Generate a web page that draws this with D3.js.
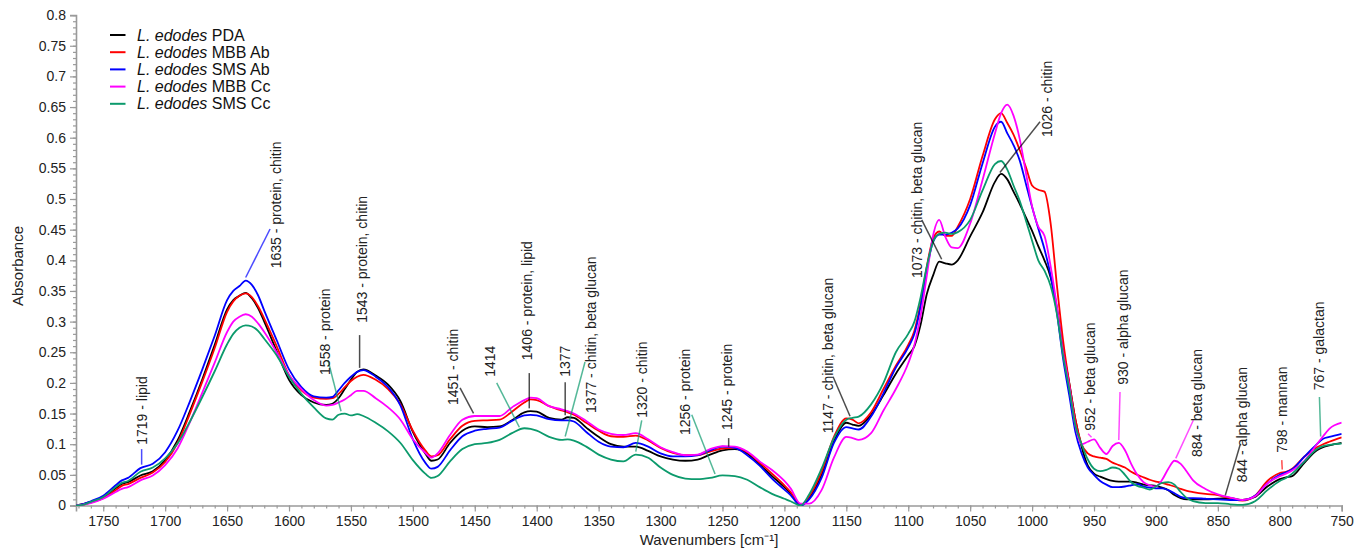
<!DOCTYPE html>
<html>
<head>
<meta charset="utf-8">
<script src="https://cdn.jsdelivr.net/npm/d3@7"></script>
<style>
  html, body { margin: 0; padding: 0; background: #fff; }
  svg { display: block; font-family: "Liberation Sans", Arial, sans-serif; }
</style>
</head>
<body>
<svg id="chart" width="1370" height="550"></svg>
<script>
// FTIR absorbance spectra of L. edodes mycelium grown on different substrates
const wavenumbers = [
  1772,1765,1760,1750,1740,1735,1730,1720,1710,1700,
  1690,1680,1670,1660,1650,1645,1640,1635,1630,1625,
  1620,1610,1600,1590,1580,1570,1565,1560,1555,1550,
  1545,1540,1530,1520,1510,1500,1490,1485,1480,1470,
  1460,1450,1440,1430,1420,1410,1405,1400,1390,1380,
  1375,1370,1360,1350,1340,1330,1320,1310,1300,1290,
  1280,1270,1260,1250,1240,1230,1220,1210,1200,1195,
  1187,1180,1170,1160,1150,1145,1140,1130,1120,1110,
  1100,1095,1090,1085,1080,1075,1070,1065,1060,1050,
  1040,1030,1025,1020,1015,1010,1005,1000,995,990,
  985,980,975,970,965,960,955,950,945,940,
  935,930,925,920,915,910,905,900,895,890,
  885,880,875,870,860,850,840,830,820,810,
  800,795,790,780,770,765,760,750
];

const pdaValues = [
  0,0.003,0.006,0.013,0.028,0.035,0.038,0.049,0.056,0.074,
  0.106,0.154,0.206,0.262,0.320,0.335,0.342,0.347,0.338,0.322,
  0.300,0.252,0.205,0.180,0.168,0.164,0.166,0.175,0.190,0.205,
  0.218,0.222,0.212,0.197,0.170,0.120,0.085,0.073,0.075,0.102,
  0.122,0.129,0.128,0.129,0.139,0.152,0.154,0.153,0.143,0.140,
  0.144,0.143,0.127,0.112,0.100,0.096,0.096,0.089,0.080,0.075,
  0.073,0.075,0.083,0.090,0.092,0.085,0.067,0.048,0.030,0.020,
  0,0.012,0.050,0.105,0.135,0.132,0.130,0.148,0.180,0.215,
  0.245,0.260,0.295,0.345,0.375,0.398,0.395,0.393,0.400,0.439,
  0.478,0.528,0.541,0.532,0.512,0.492,0.470,0.448,0.423,0.400,
  0.372,0.323,0.255,0.200,0.140,0.096,0.065,0.052,0.047,0.043,
  0.040,0.039,0.039,0.039,0.037,0.034,0.033,0.032,0.029,0.025,
  0.017,0.012,0.010,0.010,0.010,0.011,0.012,0.009,0.014,0.031,
  0.043,0.046,0.048,0.070,0.090,0.095,0.098,0.102
];

const mbbAbValues = [
  0,0.002,0.005,0.012,0.025,0.032,0.035,0.045,0.054,0.071,
  0.102,0.150,0.202,0.257,0.316,0.333,0.342,0.346,0.340,0.325,
  0.305,0.260,0.213,0.188,0.176,0.174,0.175,0.182,0.193,0.203,
  0.210,0.213,0.205,0.190,0.165,0.122,0.090,0.080,0.082,0.108,
  0.130,0.138,0.139,0.140,0.153,0.168,0.173,0.172,0.162,0.155,
  0.152,0.148,0.135,0.122,0.113,0.112,0.114,0.106,0.094,0.086,
  0.082,0.082,0.088,0.093,0.094,0.087,0.070,0.052,0.033,0.022,
  0,0.015,0.055,0.112,0.142,0.140,0.134,0.152,0.190,0.228,
  0.262,0.285,0.330,0.390,0.435,0.447,0.440,0.440,0.455,0.500,
  0.570,0.630,0.640,0.624,0.605,0.580,0.552,0.522,0.515,0.512,
  0.460,0.360,0.270,0.200,0.140,0.100,0.085,0.080,0.078,0.076,
  0.070,0.066,0.062,0.055,0.050,0.046,0.042,0.039,0.037,0.034,
  0.031,0.027,0.024,0.022,0.019,0.017,0.012,0.008,0.016,0.040,
  0.053,0.055,0.060,0.080,0.095,0.100,0.104,0.111
];

const smsAbValues = [
  0,0.003,0.007,0.016,0.033,0.041,0.045,0.061,0.068,0.087,
  0.122,0.170,0.222,0.277,0.335,0.350,0.358,0.367,0.360,0.343,
  0.318,0.270,0.222,0.193,0.178,0.176,0.177,0.188,0.200,0.210,
  0.218,0.221,0.210,0.193,0.163,0.108,0.070,0.060,0.063,0.090,
  0.113,0.122,0.125,0.127,0.138,0.147,0.148,0.147,0.141,0.139,
  0.139,0.137,0.120,0.104,0.096,0.095,0.102,0.096,0.085,0.080,
  0.080,0.082,0.090,0.096,0.094,0.082,0.065,0.044,0.026,0.017,
  0,0.010,0.045,0.102,0.128,0.126,0.124,0.145,0.183,0.225,
  0.258,0.280,0.325,0.385,0.430,0.442,0.442,0.445,0.452,0.490,
  0.558,0.618,0.626,0.607,0.588,0.563,0.525,0.487,0.452,0.418,
  0.375,0.315,0.240,0.180,0.120,0.085,0.062,0.050,0.040,0.034,
  0.030,0.030,0.031,0.033,0.035,0.031,0.029,0.028,0.028,0.025,
  0.020,0.014,0.012,0.012,0.011,0.010,0.009,0.009,0.016,0.036,
  0.050,0.054,0.059,0.080,0.100,0.109,0.112,0.117
];

const mbbCcValues = [
  0,0.002,0.004,0.011,0.022,0.027,0.030,0.041,0.049,0.066,
  0.093,0.136,0.184,0.233,0.283,0.300,0.308,0.312,0.308,0.297,
  0.283,0.250,0.213,0.190,0.172,0.163,0.164,0.168,0.173,0.180,
  0.187,0.187,0.175,0.160,0.140,0.108,0.086,0.078,0.085,0.115,
  0.140,0.146,0.146,0.146,0.160,0.172,0.176,0.175,0.162,0.157,
  0.154,0.150,0.138,0.124,0.117,0.115,0.118,0.108,0.095,0.087,
  0.082,0.083,0.092,0.097,0.096,0.088,0.072,0.058,0.040,0.028,
  0.003,0.003,0.025,0.078,0.112,0.110,0.107,0.118,0.155,0.190,
  0.232,0.262,0.310,0.375,0.440,0.466,0.438,0.421,0.420,0.460,
  0.531,0.607,0.640,0.654,0.636,0.598,0.543,0.488,0.455,0.440,
  0.390,0.325,0.250,0.195,0.130,0.100,0.104,0.108,0.094,0.084,
  0.097,0.102,0.090,0.068,0.050,0.038,0.033,0.031,0.042,0.060,
  0.073,0.068,0.055,0.041,0.027,0.018,0.013,0.009,0.015,0.036,
  0.048,0.052,0.057,0.073,0.100,0.113,0.125,0.135
];

const smsCcValues = [
  0,0.002,0.006,0.014,0.030,0.037,0.040,0.055,0.062,0.077,
  0.101,0.137,0.177,0.219,0.263,0.280,0.290,0.294,0.292,0.285,
  0.272,0.245,0.210,0.182,0.160,0.142,0.140,0.148,0.150,0.147,
  0.149,0.146,0.135,0.121,0.102,0.074,0.052,0.045,0.048,0.072,
  0.092,0.100,0.102,0.107,0.118,0.126,0.125,0.122,0.112,0.107,
  0.108,0.106,0.096,0.083,0.075,0.072,0.083,0.078,0.062,0.050,
  0.044,0.043,0.045,0.049,0.048,0.042,0.030,0.019,0.011,0.007,
  0,0.018,0.060,0.110,0.140,0.143,0.145,0.165,0.200,0.250,
  0.280,0.300,0.340,0.390,0.430,0.443,0.445,0.443,0.446,0.466,
  0.514,0.557,0.562,0.548,0.522,0.497,0.465,0.432,0.400,0.383,
  0.358,0.313,0.245,0.190,0.130,0.100,0.075,0.060,0.056,0.058,
  0.062,0.060,0.050,0.038,0.032,0.029,0.026,0.031,0.037,0.038,
  0.034,0.022,0.012,0.007,0.004,0.004,0.002,0.001,0.007,0.025,
  0.040,0.045,0.052,0.072,0.092,0.097,0.099,0.101
];

const seriesNames = ["PDA", "MBB Ab", "SMS Ab", "MBB Cc", "SMS Cc"];
const seriesValues = [pdaValues, mbbAbValues, smsAbValues, mbbCcValues, smsCcValues];
const seriesColors = ["#000000", "#ff0000", "#0000ff", "#ff00ff", "#0c9a6c"];

const xTickValues = [1750,1700,1650,1600,1550,1500,1450,1400,1350,1300,1250,1200,1150,1100,1050,1000,950,900,850,800,750];
const yTickValues = [0,0.05,0.1,0.15,0.2,0.25,0.3,0.35,0.4,0.45,0.5,0.55,0.6,0.65,0.7,0.75,0.8];

// Band assignments: wn = band position, on = series the pointer touches,
// label = [wavenumber, absorbance] where the rotated text starts,
// from = [wavenumber, absorbance] where the pointer starts.
const bandNotes = [
  { wn: 1719, text: "1719 - lipid", color: 2, on: 2, label: [1719, 0.099], from: [1719, 0.092] },
  { wn: 1635, text: "1635 - protein, chitin", color: 2, on: 2, label: [1610.5, 0.387], from: [1615.3, 0.451] },
  { wn: 1558, text: "1558 - protein", color: 4, on: 4, label: [1570.9, 0.213], from: [1568.5, 0.237] },
  { wn: 1543, text: "1543 - protein, chitin", color: 0, on: 0, label: [1541.1, 0.298], from: [1543, 0.278] },
  { wn: 1451, text: "1451 - chitin", color: 0, on: 3, label: [1467.6, 0.164], from: [1461.9, 0.192] },
  { wn: 1414, text: "1414", color: 4, on: 4, label: [1437.7, 0.210], from: [1432.3, 0.200] },
  { wn: 1406, text: "1406 - protein, lipid", color: 0, on: 0, label: [1407.8, 0.237], from: [1406, 0.216] },
  { wn: 1377, text: "1377", color: 0, on: 0, label: [1377.1, 0.210], from: [1377, 0.201] },
  { wn: 1377, text: "1377 - chitin, beta glucan", color: 4, on: 4, label: [1356.1, 0.151], from: [1361, 0.234] },
  { wn: 1320, text: "1320 - chitin", color: 4, on: 4, label: [1315, 0.143], from: [1315.2, 0.139] },
  { wn: 1256, text: "1256 - protein", color: 4, on: 4, label: [1280.2, 0.115], from: [1274.8, 0.148] },
  { wn: 1245, text: "1245 - protein", color: 0, on: 0, label: [1246.3, 0.123], from: [1245, 0.110] },
  { wn: 1147, text: "1147 - chitin, beta glucan", color: 0, on: 1, label: [1164.8, 0.118], from: [1160.7, 0.210] },
  { wn: 1073, text: "1073 - chitin, beta glucan", color: 0, on: 0, label: [1092.9, 0.371], from: [1089.1, 0.466] },
  { wn: 1026, text: "1026 - chitin", color: 0, on: 0, label: [987.5, 0.601], from: [993.6, 0.626] },
  { wn: 952, text: "952 - beta glucan", color: 3, on: 3, label: [953.2, 0.122], from: [954.8, 0.117] },
  { wn: 930, text: "930 - alpha glucan", color: 3, on: 3, label: [926.8, 0.197], from: [929, 0.185] },
  { wn: 884, text: "884 - beta glucan", color: 3, on: 3, label: [867, 0.079], from: [869.8, 0.139] },
  { wn: 844, text: "844 - alpha glucan", color: 0, on: 0, label: [830.7, 0.038], from: [832, 0.099] },
  { wn: 798, text: "798 - mannan", color: 1, on: 1, label: [798.4, 0.086], from: [798.4, 0.074] },
  { wn: 767, text: "767 - galactan", color: 4, on: 3, label: [768, 0.188], from: [768, 0.177] }
];

const svg = d3.select("#chart");
const x = d3.scaleLinear().domain([1772, 750]).range([76, 1341.7]);
const y = d3.scaleLinear().domain([0, 0.8]).range([505.5, 15.1]);

// clip for spectra
svg.append("defs").append("clipPath").attr("id", "plot-clip")
  .append("rect").attr("x", 76).attr("y", 0).attr("width", 1341.7 - 76).attr("height", 506);

// Axes
const axisColor = "#9a9a9a";
const textColor = "#222";

const xMinor = d3.range(1770, 749, -10);
const yMinor = d3.range(0, 0.8001, 0.01);

const gxMinor = svg.append("g").attr("transform", "translate(0,505.5)")
  .call(d3.axisBottom(x).tickValues(xMinor).tickSize(3).tickFormat(""));
const gx = svg.append("g").attr("transform", "translate(0,505.5)")
  .call(d3.axisBottom(x).tickValues(xTickValues).tickSize(6).tickPadding(5)
    .tickFormat(d3.format("d")));
const gyMinor = svg.append("g").attr("transform", "translate(76,0)")
  .call(d3.axisLeft(y).tickValues(yMinor).tickSize(3).tickFormat(""));
const gy = svg.append("g").attr("transform", "translate(76,0)")
  .call(d3.axisLeft(y).tickValues(yTickValues).tickSize(6).tickPadding(4)
    .tickFormat(d => String(+d.toFixed(2))));

[gxMinor, gx, gyMinor, gy].forEach(g => {
  g.select(".domain").attr("stroke", axisColor).attr("stroke-width", 1.6);
  g.selectAll(".tick line").attr("stroke", axisColor).attr("stroke-width", 1.2);
  g.selectAll(".tick text").attr("fill", textColor)
    .style("font-size", "14px").style("font-family", "'Liberation Sans', Arial, sans-serif");
});
gyMinor.select(".domain").remove();
gxMinor.select(".domain").remove();

// Axis titles
svg.append("text")
  .attr("x", 709).attr("y", 545)
  .attr("text-anchor", "middle")
  .attr("fill", textColor)
  .style("font-size", "15px")
  .text("Wavenumbers [cm\u207B\u00B9]");

svg.append("text")
  .attr("transform", "translate(23,266) rotate(-90)")
  .attr("text-anchor", "middle")
  .attr("fill", textColor)
  .style("font-size", "15px")
  .text("Absorbance");

// Spectra
const line = d3.line()
  .x((d, i) => x(wavenumbers[i]))
  .y(d => y(d))
  .curve(d3.curveMonotoneX);

const spectra = svg.append("g").attr("clip-path", "url(#plot-clip)");
seriesValues.forEach((vals, k) => {
  spectra.append("path")
    .datum(vals)
    .attr("fill", "none")
    .attr("stroke", seriesColors[k])
    .attr("stroke-width", 1.8)
    .attr("stroke-linejoin", "round")
    .attr("d", line);
});

// value of a spectrum at an arbitrary wavenumber (linear between samples)
function valueAt(k, wn) {
  const vals = seriesValues[k];
  for (let i = 0; i < wavenumbers.length - 1; i++) {
    const a = wavenumbers[i], b = wavenumbers[i + 1];
    if (wn <= a && wn >= b) {
      const t = (a - wn) / (a - b);
      return vals[i] + t * (vals[i + 1] - vals[i]);
    }
  }
  return 0;
}

// Band annotations
const notes = svg.append("g");
bandNotes.forEach(n => {
  const ex = x(n.wn);
  const ey = y(valueAt(n.on, n.wn)) - 3;
  notes.append("line")
    .attr("x1", x(n.from[0])).attr("y1", y(n.from[1]))
    .attr("x2", ex).attr("y2", ey)
    .attr("stroke", seriesColors[n.color])
    .attr("stroke-opacity", 0.7)
    .attr("stroke-width", 1.5);
  notes.append("text")
    .attr("transform", `translate(${x(n.label[0])},${y(n.label[1])}) rotate(-90)`)
    .attr("dy", "0.35em")
    .attr("fill", textColor)
    .style("font-size", "14px")
    .text(n.text);
});

// Legend
const legend = svg.append("g");
seriesNames.forEach((name, k) => {
  const ly = 35 + k * 17.2;
  legend.append("line")
    .attr("x1", 110).attr("x2", 125.5)
    .attr("y1", ly).attr("y2", ly)
    .attr("stroke", seriesColors[k]).attr("stroke-width", 2);
  const t = legend.append("text")
    .attr("x", 137).attr("y", ly).attr("dy", "0.35em")
    .attr("fill", "#111")
    .style("font-size", "16px");
  t.append("tspan").style("font-style", "italic").text("L. edodes");
  t.append("tspan").text(" " + name);
});
</script>
</body>
</html>
